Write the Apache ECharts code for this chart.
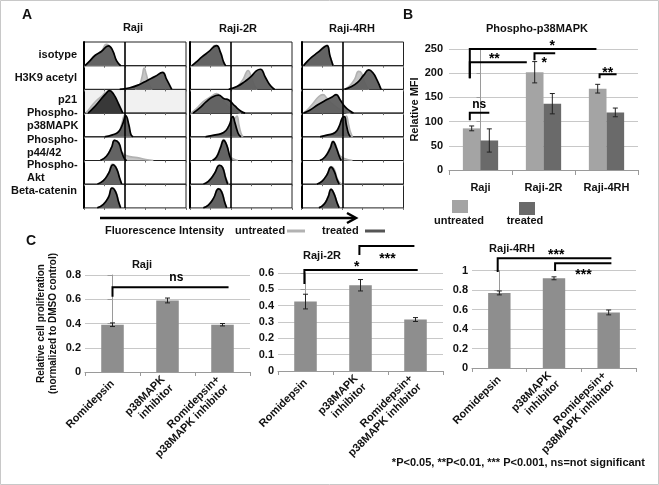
<!DOCTYPE html>
<html><head><meta charset="utf-8">
<script src="https://cdn.jsdelivr.net/npm/echarts/dist/echarts.min.js"></script>
<style>html,body{margin:0;padding:0;background:#fff}#c{width:659px;height:485px}</style>
</head><body><div id="c"></div>
<script>
const FONT = '"Liberation Sans", Arial, Helvetica, sans-serif';

// ---------- Panel A : flow cytometry histograms ----------
const cellLines = ['Raji', 'Raji-2R', 'Raji-4RH'];
const markerLabels = ['isotype', 'H3K9 acetyl', 'p21', 'Phospho-\np38MAPK', 'Phospho-\np44/42', 'Phospho-\nAkt', 'Beta-catenin'];
const gateLine = [40, 40, 40];
// points: [fluorescence position (% of axis), relative count (%)], per cell line [Raji, Raji-2R, Raji-4RH]
const isotypeUntreated = [
  [[1,0],[5,15],[11,40],[17,60],[22,90],[27,70],[31,25],[34,0]],
  [[2,0],[6,14],[12,36],[18,55],[25,86],[29,55],[32,15],[34,0]],
  [[2,0],[5,14],[10,34],[16,55],[22,80],[25,86],[28,40],[31,0]]
];
const isotypeTreated = [
  [[1,0],[5,17],[11,44],[17,60],[24,84],[28,65],[32,20],[36,0]],
  [[2,0],[6,15],[12,38],[18,58],[26,85],[30,55],[33,15],[35,0]],
  [[2,0],[5,15],[10,36],[16,56],[22,78],[25,85],[28,40],[31,0]]
];
const h3k9Untreated = [
  [[50,0],[54,15],[57,55],[59,90],[61,65],[64,20],[67,0]],
  [[41,0],[47,15],[52,42],[57,80],[60,55],[63,18],[66,0]],
  [[42,0],[47,14],[52,42],[56,76],[59,68],[62,28],[66,0]]
];
const h3k9Treated = [
  [[35,0],[45,7],[54,20],[62,38],[70,55],[77,72],[81,42],[86,0]],
  [[38,0],[46,12],[54,34],[60,55],[65,78],[69,85],[74,50],[79,15],[83,0]],
  [[42,0],[48,10],[55,30],[61,60],[66,82],[70,70],[74,40],[78,0]]
];
const p21Untreated = [
  [[2,0],[6,22],[12,52],[18,74],[22,88],[27,84],[33,40],[38,0]],
  [[1,0],[6,18],[13,48],[20,68],[26,82],[31,60],[37,30],[45,8],[50,0]],
  [[2,0],[6,15],[12,45],[17,70],[21,78],[25,62],[30,40],[36,20],[42,5],[48,0]]
];
const p21Treated = [
  [[4,0],[10,25],[16,55],[21,80],[25,95],[29,80],[34,38],[38,0]],
  [[3,0],[9,20],[16,48],[22,68],[28,76],[33,62],[38,55],[44,30],[50,8],[54,0]],
  [[2,0],[8,12],[16,35],[24,55],[30,68],[34,78],[38,55],[43,25],[48,8],[51,0]]
];
const p38Untreated = [
  [[20,0],[28,7],[34,20],[37,55],[40,92],[43,60],[45,15],[47,0]],
  [[15,0],[25,7],[33,17],[39,42],[43,68],[46,88],[48,50],[50,15],[52,0]],
  [[18,0],[26,7],[33,18],[38,42],[42,70],[44,88],[46,55],[48,20],[50,0]]
];
const p38Treated = [
  [[20,0],[28,8],[34,22],[38,55],[41,88],[44,50],[46,10],[48,0]],
  [[15,0],[25,8],[33,18],[38,45],[42,85],[44,60],[46,30],[48,8],[50,0]],
  [[18,0],[26,8],[33,18],[37,45],[40,80],[42,85],[44,50],[46,15],[48,0]]
];
const p44Untreated = [
  [[16,0],[22,18],[27,55],[30,86],[33,70],[37,36],[42,20],[52,12],[64,2],[68,0]],
  [[22,0],[26,15],[30,60],[33,88],[36,65],[39,20],[42,8],[47,0]],
  [[18,0],[23,15],[28,55],[31,82],[34,60],[37,25],[42,8],[50,0]]
];
const p44Treated = [
  [[16,0],[22,18],[27,55],[30,85],[34,75],[37,35],[40,5],[42,0]],
  [[22,0],[26,15],[30,55],[33,85],[36,65],[39,18],[41,0]],
  [[18,0],[23,15],[28,50],[31,80],[34,55],[37,18],[39,0]]
];
const aktUntreated = [
  [[13,0],[19,15],[24,45],[28,85],[31,75],[34,35],[37,0]],
  [[13,0],[18,12],[24,45],[29,80],[32,72],[35,28],[38,0]],
  [[15,0],[20,12],[25,40],[29,75],[32,65],[35,25],[38,5],[42,0]]
];
const aktTreated = [
  [[13,0],[19,15],[24,45],[28.5,82],[32,65],[35,25],[37,0]],
  [[13,0],[18,12],[24,45],[29,80],[32,70],[35,25],[37,0]],
  [[15,0],[20,12],[25,40],[29,72],[32,55],[35,18],[37,0]]
];
const bcatUntreated = [
  [[13,0],[19,15],[24,45],[27.5,85],[31,70],[34,25],[36,0]],
  [[13,0],[18,12],[23,40],[28,82],[31,70],[34,25],[36,0]],
  [[17,0],[22,15],[26,45],[29,80],[32,60],[35,20],[37,0]]
];
const bcatTreated = [
  [[13,0],[19,15],[24,45],[27.5,84],[31,68],[34,24],[36,0]],
  [[13,0],[18,12],[23,40],[28,80],[31,68],[34,24],[36,0]],
  [[17,0],[22,15],[26,45],[29,78],[32,58],[35,20],[37,0]]
];

// ---------- Panel B ----------
const bCategories = ['Raji', 'Raji-2R', 'Raji-4RH'];
const mfiUntreated = [86, 202, 168];
const mfiUntreatedErr = [5, 22, 9];
const mfiTreated = [61, 137, 119];
const mfiTreatedErr = [24, 21, 9];
// brackets: [xStart, xEnd, yLine, yTickEnd, labelX, labelY] in category / value units
const bBrackets = [
  [-0.17, 1.84, 250, 189.5, 1.14, 256],
  [-0.17, 0.735, 222.5, 189.5, 0.22, 229],
  [0.857, 1.186, 241, 227, 1.01, 221],
  [1.89, 2.16, 198, 189.5, 2.02, 201],
  [-0.17, 0.14, 118.5, 103, -0.02, 134]
];
const bBracketLabels = ['*', '**', '*', '**', 'ns'];

// ---------- Panel C ----------
const cCategories = ['Romidepsin', 'p38MAPK\ninhibitor', 'Romidepsin+\np38MAPK inhibitor'];
const prolifRaji = [0.39, 0.59, 0.39];
const prolifRajiErr = [0.015, 0.02, 0.01];
const prolifRaji2R = [0.425, 0.525, 0.315];
const prolifRaji2RErr = [0.045, 0.035, 0.012];
const prolifRaji4RH = [0.77, 0.92, 0.57];
const prolifRaji4RHErr = [0.02, 0.015, 0.025];
const rajiBrackets = [[0, 2.11, 0.70, 0.62, 1.16, 0.78]];
const rajiBracketLabels = ['ns'];
const raji2RBrackets = [[-0.02, 2.04, 0.618, 0.533, 0.93, 0.636], [0.98, 1.98, 0.765, 0.71, 1.49, 0.686]];
const raji2RBracketLabels = ['*', '***'];
const raji4RHBrackets = [[-0.03, 2.05, 1.125, 0.985, 1.04, 1.16], [1.02, 2.05, 1.074, 0.995, 1.54, 0.955]];
const raji4RHBracketLabels = ['***', '***'];

// ---------- build ----------
const histUntreated = [isotypeUntreated, h3k9Untreated, p21Untreated, p38Untreated, p44Untreated, aktUntreated, bcatUntreated];
const histTreated = [isotypeTreated, h3k9Treated, p21Treated, p38Treated, p44Treated, aktTreated, bcatTreated];

const grids = [], xAxes = [], yAxes = [], series = [];
const colLeft = [84, 190, 301.5], cellW = 102, rowTop0 = 42, rowH = 23.7;

for (let r = 0; r < 7; r++) {
  for (let c = 0; c < 3; c++) {
    const i = grids.length;
    const special = (r === 2 && c === 0);
    grids.push({left: colLeft[c], top: rowTop0 + r * rowH, width: cellW, height: rowH, show: true,
      borderColor: '#222', borderWidth: 1, backgroundColor: special ? '#f1f1f1' : 'transparent'});
    xAxes.push({gridIndex: i, type: 'value', min: 0, max: 100, interval: 20,
      axisLine: {show: false}, axisTick: {show: true, length: 2, lineStyle: {color: '#666'}},
      axisLabel: {show: false}, splitLine: {show: false}});
    yAxes.push({gridIndex: i, type: 'value', min: 0, max: 100,
      axisLine: {show: true, lineStyle: {color: '#000', width: 2}}, axisTick: {show: false},
      axisLabel: {show: false}, splitLine: {show: false}});
    series.push({type: 'line', xAxisIndex: i, yAxisIndex: i, data: histUntreated[r][c], smooth: 0.5,
      symbol: 'none', silent: true, z: 2,
      lineStyle: {color: '#b2b2b2', width: 1.6}, areaStyle: {color: '#c6c6c6', opacity: 1}});
    series.push({type: 'line', xAxisIndex: i, yAxisIndex: i, data: histTreated[r][c], smooth: 0.5,
      symbol: 'none', silent: true, z: 3,
      lineStyle: {color: '#000', width: 1.7}, areaStyle: {color: special ? '#303030' : '#5e5e5e', opacity: 0.95},
      markLine: {silent: true, symbol: 'none', label: {show: false},
        lineStyle: {color: '#000', width: 1.6, type: 'solid'}, data: [{xAxis: gateLine[c]}]}});
  }
}

const labelStyle = {color: '#111', fontSize: 11, fontWeight: 'bold', fontFamily: FONT};
const axisGray = '#9a9a9a';

function errRender(slot, nSlots, widthFrac) {
  return function (params, api) {
    const cat = api.value(0), lo = api.value(1), hi = api.value(2);
    const band = api.size([1, 0])[0];
    const off = (slot - (nSlots - 1) / 2) * band * widthFrac;
    const p1 = api.coord([cat, hi]), p2 = api.coord([cat, lo]);
    const x = p1[0] + off, cap = 2.5;
    const st = {stroke: '#222', lineWidth: 1};
    return {type: 'group', children: [
      {type: 'line', shape: {x1: x, y1: p1[1], x2: x, y2: p2[1]}, style: st},
      {type: 'line', shape: {x1: x - cap, y1: p1[1], x2: x + cap, y2: p1[1]}, style: st},
      {type: 'line', shape: {x1: x - cap, y1: p2[1], x2: x + cap, y2: p2[1]}, style: st}
    ]};
  };
}
function bracketRender(list, labels) {
  return function (params, api) {
    const b = list[params.dataIndex];
    const a = api.coord([b[0], b[2]]), e = api.coord([b[1], b[2]]), v = api.coord([b[0], b[3]]);
    const t = api.coord([b[4], b[5]]);
    const lab = labels[params.dataIndex];
    const isStar = lab.indexOf('*') >= 0;
    return {type: 'group', children: [
      {type: 'polyline', shape: {points: [[v[0], v[1]], [a[0], a[1]], [e[0], e[1]]]},
        style: {stroke: '#000', lineWidth: 2, fill: 'none'}},
      {type: 'text', x: t[0], y: t[1], style: {text: lab, font: 'bold ' + (isStar ? 14 : 12) + 'px ' + FONT,
        fill: '#000', align: 'center', verticalAlign: 'middle'}}
    ]};
  };
}
function errData(vals, errs) { return vals.map((v, k) => [k, v - errs[k], v + errs[k]]); }

// Panel B grid
const gB = grids.length;
grids.push({left: 449, top: 49, width: 189, height: 121});
const xB = xAxes.length;
xAxes.push({gridIndex: gB, type: 'category', data: bCategories,
  axisLine: {lineStyle: {color: axisGray}}, axisTick: {show: true, length: 5, lineStyle: {color: axisGray}},
  axisLabel: Object.assign({margin: 12}, labelStyle)});
xAxes.push({gridIndex: gB, type: 'value', min: -0.5, max: 2.5, show: false});
const yB = yAxes.length;
yAxes.push({gridIndex: gB, type: 'value', min: 0, max: 250, interval: 50,
  name: 'Relative MFI', nameLocation: 'middle', nameGap: 25, nameTextStyle: labelStyle,
  axisLine: {show: true, lineStyle: {color: axisGray}}, axisTick: {show: true, length: 4, lineStyle: {color: axisGray}},
  axisLabel: Object.assign({margin: 6}, labelStyle), splitLine: {lineStyle: {color: '#c8c8c8'}}});
series.push({type: 'bar', name: 'untreated', xAxisIndex: xB, yAxisIndex: yB, data: mfiUntreated,
  barWidth: '28%', barGap: '0%', itemStyle: {color: '#a4a4a4'}});
series.push({type: 'bar', name: 'treated', xAxisIndex: xB, yAxisIndex: yB, data: mfiTreated,
  barWidth: '28%', barGap: '0%', itemStyle: {color: '#6a6a6a'}});
series.push({type: 'custom', xAxisIndex: xB, yAxisIndex: yB, data: errData(mfiUntreated, mfiUntreatedErr),
  encode: {x: 0, y: [1, 2]}, renderItem: errRender(0, 2, 0.28), z: 5});
series.push({type: 'custom', xAxisIndex: xB, yAxisIndex: yB, data: errData(mfiTreated, mfiTreatedErr),
  encode: {x: 0, y: [1, 2]}, renderItem: errRender(1, 2, 0.28), z: 5});
series.push({type: 'custom', xAxisIndex: xB + 1, yAxisIndex: yB, data: bBrackets.map(b => b.slice(0, 4)),
  encode: {x: [0, 1], y: [2, 3]}, renderItem: bracketRender(bBrackets, bBracketLabels), clip: false, z: 6});

// Panel C grids
const cPanels = [
  {rect: {left: 85, top: 275, width: 165, height: 97}, max: 0.8, interval: 0.2, vals: prolifRaji, errs: prolifRajiErr,
    br: rajiBrackets, brl: rajiBracketLabels, name: 'Relative cell proliferation\n(normalized to DMSO control)'},
  {rect: {left: 278, top: 273, width: 165, height: 98}, max: 0.6, interval: 0.1, vals: prolifRaji2R, errs: prolifRaji2RErr,
    br: raji2RBrackets, brl: raji2RBracketLabels, name: ''},
  {rect: {left: 472, top: 270.5, width: 164, height: 97.5}, max: 1, interval: 0.2, vals: prolifRaji4RH, errs: prolifRaji4RHErr,
    br: raji4RHBrackets, brl: raji4RHBracketLabels, name: ''}
];
cPanels.forEach(p => {
  const g = grids.length;
  grids.push(p.rect);
  const xi = xAxes.length;
  xAxes.push({gridIndex: g, type: 'category', data: cCategories,
    axisLine: {lineStyle: {color: axisGray}}, axisTick: {show: true, length: 4, lineStyle: {color: axisGray}},
    axisLabel: Object.assign({margin: 10, rotate: 45, interval: 0, lineHeight: 12}, labelStyle)});
  xAxes.push({gridIndex: g, type: 'value', min: -0.5, max: 2.5, show: false});
  const yi = yAxes.length;
  yAxes.push({gridIndex: g, type: 'value', min: 0, max: p.max, interval: p.interval,
    name: p.name, nameLocation: 'middle', nameGap: 26,
    nameTextStyle: {color: '#111', fontSize: 10, fontWeight: 'bold', fontFamily: FONT, lineHeight: 12},
    axisLine: {show: true, lineStyle: {color: axisGray}}, axisTick: {show: true, length: 5, lineStyle: {color: axisGray}},
    axisLabel: Object.assign({margin: 4, formatter: v => String(parseFloat(v.toFixed(2)))}, labelStyle),
    splitLine: {lineStyle: {color: '#c8c8c8'}}});
  series.push({type: 'bar', xAxisIndex: xi, yAxisIndex: yi, data: p.vals, barWidth: '41%', itemStyle: {color: '#8e8e8e'}});
  series.push({type: 'custom', xAxisIndex: xi, yAxisIndex: yi, data: errData(p.vals, p.errs),
    encode: {x: 0, y: [1, 2]}, renderItem: errRender(0, 1, 0), z: 5});
  series.push({type: 'custom', xAxisIndex: xi + 1, yAxisIndex: yi, data: p.br.map(b => b.slice(0, 4)),
    encode: {x: [0, 1], y: [2, 3]}, renderItem: bracketRender(p.br, p.brl), clip: false, z: 6});
});

function txt(x, y, text, size, align, extra) {
  return Object.assign({type: 'text', x: x, y: y, silent: true,
    style: {text: text, font: 'bold ' + size + 'px ' + FONT, fill: '#111', align: align || 'center',
      verticalAlign: 'middle', lineHeight: 13}}, extra || {});
}
const graphics = [
  {type: 'rect', shape: {x: 0.5, y: 0.5, width: 658, height: 484}, style: {fill: 'none', stroke: '#c8c8c8', lineWidth: 1}},
  txt(27, 15, 'A', 14), txt(408, 15, 'B', 14), txt(31, 241, 'C', 14),
  txt(133, 28, cellLines[0], 11), txt(238, 29, cellLines[1], 11), txt(352, 29, cellLines[2], 11),
  txt(77, 55, markerLabels[0], 11, 'right'),
  txt(77, 78, markerLabels[1], 11, 'right'),
  txt(77, 100, markerLabels[2], 11, 'right'),
  txt(27, 119, markerLabels[3], 11, 'left'),
  txt(27, 146, markerLabels[4], 11, 'left'),
  txt(27, 171, markerLabels[5], 11, 'left'),
  txt(77, 191, markerLabels[6], 11, 'right'),
  {type: 'line', shape: {x1: 100, y1: 218, x2: 355, y2: 218}, style: {stroke: '#000', lineWidth: 2.5}},
  {type: 'polyline', shape: {points: [[347, 213], [356, 218], [347, 223]]}, style: {stroke: '#000', lineWidth: 2.5, fill: 'none'}},
  txt(105, 231, 'Fluorescence Intensity', 11, 'left'),
  txt(235, 231, 'untreated', 11, 'left'),
  {type: 'line', shape: {x1: 287, y1: 231, x2: 305, y2: 231}, style: {stroke: '#b2b2b2', lineWidth: 3}},
  txt(322, 231, 'treated', 11, 'left'),
  {type: 'line', shape: {x1: 365, y1: 231, x2: 385, y2: 231}, style: {stroke: '#555', lineWidth: 3}},
  txt(537, 29, 'Phospho-p38MAPK', 11),
  {type: 'rect', shape: {x: 452, y: 200, width: 16, height: 13}, style: {fill: '#a4a4a4'}},
  {type: 'rect', shape: {x: 519, y: 202, width: 16, height: 13}, style: {fill: '#6a6a6a'}},
  txt(459, 221, 'untreated', 11), txt(525, 221, 'treated', 11),
  txt(142, 265, 'Raji', 11), txt(322, 256, 'Raji-2R', 11), txt(512, 249, 'Raji-4RH', 11),
  txt(645, 463, '*P<0.05, **P<0.01, *** P<0.001, ns=not significant', 11, 'right')
];

const chart = echarts.init(document.getElementById('c'));
chart.setOption({animation: false, backgroundColor: '#fff', grid: grids, xAxis: xAxes, yAxis: yAxes,
  series: series, graphic: graphics});
</script></body></html>
